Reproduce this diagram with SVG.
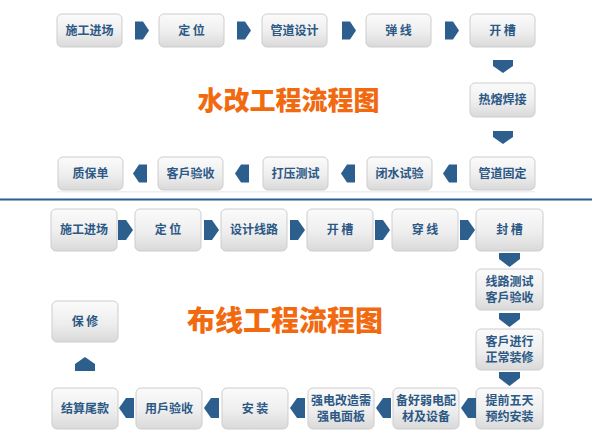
<svg xmlns="http://www.w3.org/2000/svg" width="592" height="445" viewBox="0 0 592 445">
<defs>
<linearGradient id="g" x1="0" y1="0" x2="0" y2="1">
<stop offset="0" stop-color="#fbfbfb"/>
<stop offset="0.55" stop-color="#eeeeee"/>
<stop offset="1" stop-color="#d9d9d9"/>
</linearGradient>
<polygon id="ar" points="0,0 8,0 14,9 8,18 0,18" fill="#2d5f8e"/>
<polygon id="al" points="14,0 6,0 0,9 6,18 14,18" fill="#2d5f8e"/>
<polygon id="ad" points="0,0 20,0 20,6 10,13 0,6" fill="#2d5f8e"/>
<polygon id="ar2" points="0,0 8,0 15,10 8,20 0,20" fill="#2d5f8e"/>
<polygon id="al2" points="15,0 7,0 0,10 7,20 15,20" fill="#2d5f8e"/>
<polygon id="ad2" points="0,0 21,0 21,6 10.5,14 0,6" fill="#2d5f8e"/>
<polygon id="au2" points="10,0 20,7 20,14 0,14 0,7" fill="#2d5f8e"/>
</defs>
<style>
.b{fill:url(#g);stroke:#cdcdcd;stroke-width:1}
.t{font-family:"Noto Sans CJK SC","Noto Sans",sans-serif;font-weight:bold;font-size:12px;fill:#2b5885;text-anchor:middle}
.h{font-family:"Noto Sans CJK SC","Noto Sans",sans-serif;font-weight:900;fill:#f26a10;text-anchor:middle}
</style>
<rect width="592" height="445" fill="#ffffff"/>

<!-- top section -->
<g id="n1"><rect class="b" x="57" y="14" width="65" height="33" rx="5"/><text class="t" x="89.5" y="35">施工进场</text></g>
<g id="n2"><rect class="b" x="159" y="14" width="65" height="33" rx="5"/><text class="t" x="191.5" y="35">定 位</text></g>
<g id="n3"><rect class="b" x="262" y="14" width="65" height="33" rx="5"/><text class="t" x="294.5" y="35">管道设计</text></g>
<g id="n4"><rect class="b" x="366" y="14" width="65" height="33" rx="5"/><text class="t" x="398.5" y="35">弹 线</text></g>
<g id="n5"><rect class="b" x="470" y="14" width="65" height="33" rx="5"/><text class="t" x="502.5" y="35">开 槽</text></g>
<g id="n6"><rect class="b" x="470" y="83" width="65" height="34" rx="5"/><text class="t" x="502.5" y="104">热熔焊接</text></g>
<g id="n7"><rect class="b" x="470" y="157" width="65" height="33" rx="5"/><text class="t" x="502.5" y="178">管道固定</text></g>
<g id="n8"><rect class="b" x="367" y="157" width="65" height="33" rx="5"/><text class="t" x="399.5" y="178">闭水试验</text></g>
<g id="n9"><rect class="b" x="263" y="157" width="65" height="33" rx="5"/><text class="t" x="295.5" y="178">打压测试</text></g>
<g id="n10"><rect class="b" x="158" y="157" width="65" height="33" rx="5"/><text class="t" x="190.5" y="178">客戶验收</text></g>
<g id="n11"><rect class="b" x="58" y="157" width="65" height="33" rx="5"/><text class="t" x="90.5" y="178">质保单</text></g>
<rect x="57" y="191" width="478" height="1.5" fill="#efefef"/>

<text class="h" x="288.5" y="110" font-size="26">水改工程流程图</text>

<line x1="0" y1="199.5" x2="592" y2="199.5" stroke="#2d5f8e" stroke-width="2.2"/>

<!-- bottom section -->
<g id="m1"><rect class="b" x="51" y="209" width="66" height="42" rx="5"/><text class="t" x="84" y="234">施工进场</text></g>
<g id="m2"><rect class="b" x="135" y="209" width="66" height="42" rx="5"/><text class="t" x="168" y="234">定 位</text></g>
<g id="m3"><rect class="b" x="221" y="209" width="66" height="42" rx="5"/><text class="t" x="254" y="234">设计线路</text></g>
<g id="m4"><rect class="b" x="307" y="209" width="66" height="42" rx="5"/><text class="t" x="340" y="234">开 槽</text></g>
<g id="m5"><rect class="b" x="392" y="209" width="66" height="42" rx="5"/><text class="t" x="425" y="234">穿 线</text></g>
<g id="m6"><rect class="b" x="476" y="209" width="67" height="42" rx="5"/><text class="t" x="509.5" y="234">封 槽</text></g>
<g id="m7"><rect class="b" x="476" y="269" width="67" height="41" rx="5"/><text class="t" x="509.5" y="286">线路测试</text><text class="t" x="509.5" y="302">客戶验收</text></g>
<g id="m8"><rect class="b" x="476" y="329" width="67" height="41" rx="5"/><text class="t" x="509.5" y="346">客戶进行</text><text class="t" x="509.5" y="362">正常装修</text></g>
<g id="m9"><rect class="b" x="476" y="388" width="67" height="41" rx="5"/><text class="t" x="509.5" y="405">提前五天</text><text class="t" x="509.5" y="421">预约安装</text></g>
<g id="m10"><rect class="b" x="393" y="388" width="66" height="41" rx="5"/><text class="t" x="426" y="405">备好弱电配</text><text class="t" x="426" y="421">材及设备</text></g>
<g id="m11"><rect class="b" x="308" y="388" width="66" height="41" rx="5"/><text class="t" x="341" y="405">强电改造需</text><text class="t" x="341" y="421">强电面板</text></g>
<g id="m12"><rect class="b" x="222" y="388" width="66" height="41" rx="5"/><text class="t" x="255" y="413">安 装</text></g>
<g id="m13"><rect class="b" x="136" y="388" width="66" height="41" rx="5"/><text class="t" x="169" y="413">用戶验收</text></g>
<g id="m14"><rect class="b" x="52" y="388" width="66" height="41" rx="5"/><text class="t" x="85" y="413">结算尾款</text></g>
<g id="m15"><rect class="b" x="52" y="301" width="66" height="41" rx="5"/><text class="t" x="85" y="326">保 修</text></g>

<text class="h" x="285" y="331" font-size="28">布线工程流程图</text>

<g id="connectors">
<use href="#ar" x="135" y="21.5"/>
<use href="#ar" x="237" y="21.5"/>
<use href="#ar" x="342" y="21.5"/>
<use href="#ar" x="445" y="21.5"/>
<use href="#ad" x="493" y="60"/>
<use href="#ad" x="493" y="131"/>
<use href="#al" x="443" y="164.5"/>
<use href="#al" x="341" y="164.5"/>
<use href="#al" x="235" y="164.5"/>
<use href="#al" x="133" y="164.5"/>

<use href="#ar2" x="118" y="220"/>
<use href="#ar2" x="204" y="220"/>
<use href="#ar2" x="290" y="220"/>
<use href="#ar2" x="375" y="220"/>
<use href="#ar2" x="460" y="220"/>
<use href="#ad2" x="499" y="253"/>
<use href="#ad2" x="499" y="313"/>
<use href="#ad2" x="499" y="372"/>
<use href="#al2" x="461" y="398"/>
<use href="#al2" x="376" y="398"/>
<use href="#al2" x="290" y="398"/>
<use href="#al2" x="204" y="398"/>
<use href="#al2" x="119" y="398"/>
<use href="#au2" x="75" y="357"/>
</g>
</svg>
